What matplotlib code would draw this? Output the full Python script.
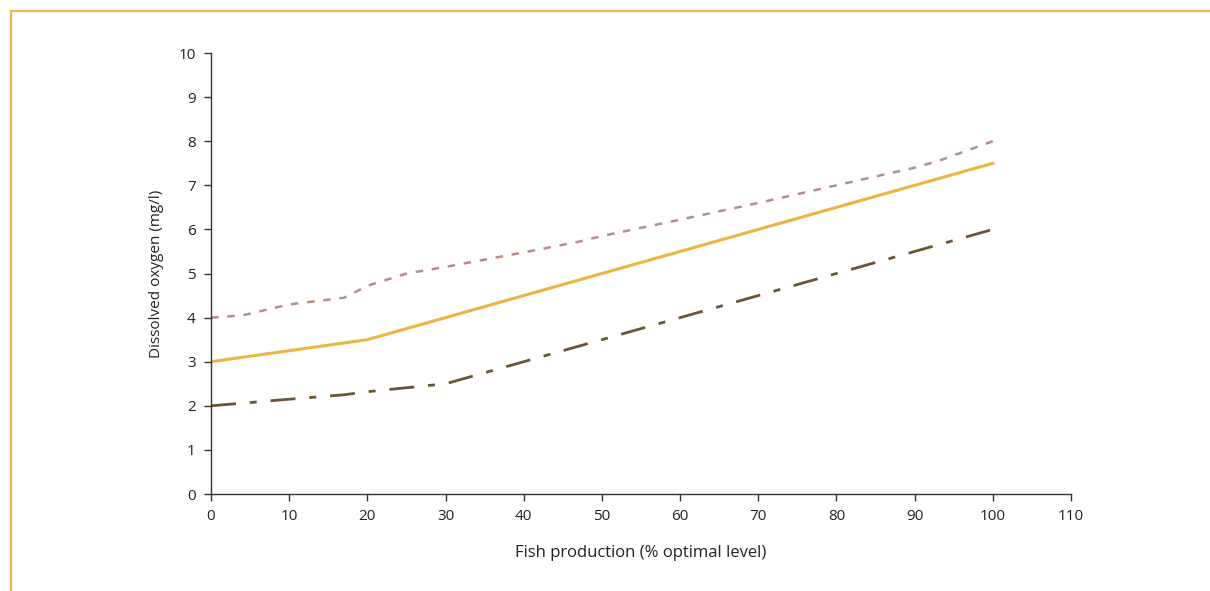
import matplotlib.pyplot as plt
from matplotlib.lines import Line2D

plt.rcParams["font.family"] = ["Open Sans", "DejaVu Sans"]

# Fish production (% optimal level)
prod_upper = [0, 4, 10, 17, 20, 25, 30, 40, 47, 50, 60, 70, 80, 90, 93, 100]
oxy_upper = [4.0, 4.05, 4.3, 4.45, 4.72, 5.0, 5.15, 5.48, 5.72, 5.85, 6.22, 6.6, 7.0, 7.4, 7.55, 8.0]

prod_mid = [0, 20, 30, 40, 50, 60, 70, 80, 90, 100]
oxy_mid = [3.0, 3.5, 4.0, 4.5, 5.0, 5.5, 6.0, 6.5, 7.0, 7.5]

prod_lower = [0, 10, 17, 20, 30, 40, 50, 60, 70, 80, 90, 100]
oxy_lower = [2.0, 2.15, 2.25, 2.32, 2.5, 3.0, 3.5, 4.0, 4.5, 5.0, 5.5, 6.0]

fig = plt.figure(figsize=(12.1, 5.91), dpi=100)
ax = fig.add_axes([0.1744, 0.1641, 0.7107, 0.7462])

ax.plot(prod_upper, oxy_upper, color="#b39084", lw=1.8, dashes=(3, 3.5))
ax.plot(prod_mid, oxy_mid, color="#edb443", lw=2.2)
ax.plot(prod_lower, oxy_lower, color="#6b5536", lw=2.0, dashes=(9, 5, 2.5, 5))

ax.set_xlim(0, 110)
ax.set_ylim(0, 10)
ax.set_xticks(range(0, 111, 10))
ax.set_yticks(range(0, 11))
for s in ["top", "right"]:
    ax.spines[s].set_visible(False)
for s in ["left", "bottom"]:
    ax.spines[s].set_color("#333333")
    ax.spines[s].set_linewidth(1.0)
ax.tick_params(direction="out", length=5, width=1, color="#333333",
               labelsize=11, labelcolor="#222222", pad=6)
ax.set_xlabel("Fish production (% optimal level)", fontsize=12, color="#222222", labelpad=15)
ax.set_ylabel("Dissolved oxygen (mg/l)", fontsize=11, color="#222222", labelpad=10)

# orange frame lines
fig.add_artist(Line2D([0.0087, 1.0], [0.982, 0.982], color="#f2b844", lw=1.6,
                      transform=fig.transFigure))
fig.add_artist(Line2D([0.0087, 0.0087], [0.0, 0.982], color="#f2b844", lw=1.6,
                      transform=fig.transFigure))

fig.savefig("out.png", dpi=100)
